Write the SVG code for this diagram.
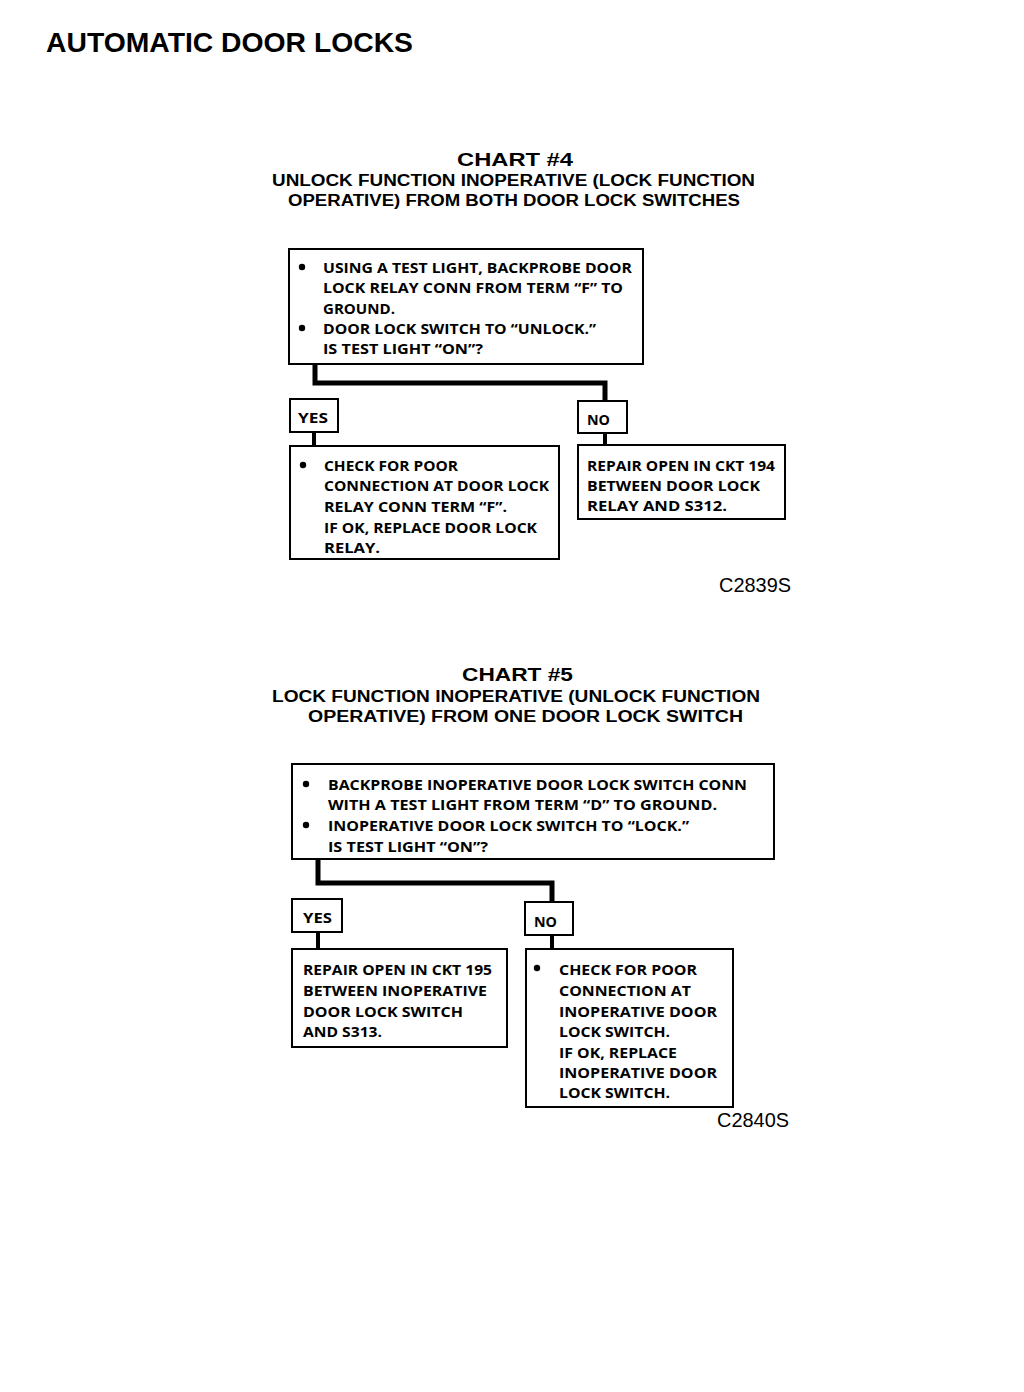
<svg xmlns="http://www.w3.org/2000/svg" width="1024" height="1392" viewBox="0 0 1024 1392">
<style>
.bg{fill:#fff}
.box{fill:#fff;stroke:#000;stroke-width:2}
.t{font-family:"Open Sans","Liberation Sans",sans-serif;font-weight:700;font-size:15px;fill:#000}
.lbl{font-family:"Open Sans","Liberation Sans",sans-serif;font-weight:700;font-size:14px;fill:#000}
.h1{font-family:"Liberation Sans",Arial,sans-serif;font-weight:700;font-size:28px;fill:#000}
.h2{font-family:"Liberation Sans",Arial,sans-serif;font-weight:700;font-size:19px;fill:#000}
.h3{font-family:"Liberation Sans",Arial,sans-serif;font-weight:700;font-size:16px;fill:#000}
.code{font-family:"Liberation Sans",Arial,sans-serif;font-size:20px;fill:#000}
.con{fill:none;stroke:#000;stroke-width:5}
.con2{fill:none;stroke:#000;stroke-width:4}
.dot{fill:#000}
</style>
<rect class="bg" x="0" y="0" width="1024" height="1392"/>

<text class="h1" x="46" y="52" textLength="367" lengthAdjust="spacingAndGlyphs">AUTOMATIC DOOR LOCKS</text>

<g id="chart4-title">
<text class="h2" x="457" y="166" textLength="116" lengthAdjust="spacingAndGlyphs">CHART #4</text>
<text class="h3" x="272" y="186" textLength="483" lengthAdjust="spacingAndGlyphs">UNLOCK FUNCTION INOPERATIVE (LOCK FUNCTION</text>
<text class="h3" x="288" y="206" textLength="452" lengthAdjust="spacingAndGlyphs">OPERATIVE) FROM BOTH DOOR LOCK SWITCHES</text>
</g>

<g id="connectors">
<polyline class="con" points="315,364 315,383 605,383 605,401"/>
<line class="con2" x1="314" y1="432" x2="314" y2="446"/>
<line class="con2" x1="605" y1="433" x2="605" y2="445"/>
<polyline class="con" points="318,859 318,883 552,883 552,902"/>
<line class="con2" x1="318" y1="932" x2="318" y2="949"/>
<line class="con2" x1="552" y1="935" x2="552" y2="949"/>
</g>

<g id="c4-test">
<rect class="box" x="289" y="249" width="354" height="115"/>
<circle class="dot" cx="302" cy="267" r="3.2"/>
<circle class="dot" cx="302" cy="328" r="3.2"/>
<text class="t" x="323" y="273" textLength="309" lengthAdjust="spacingAndGlyphs">USING A TEST LIGHT, BACKPROBE DOOR</text>
<text class="t" x="323" y="293" textLength="300" lengthAdjust="spacingAndGlyphs">LOCK RELAY CONN FROM TERM “F” TO</text>
<text class="t" x="323" y="314" textLength="72" lengthAdjust="spacingAndGlyphs">GROUND.</text>
<text class="t" x="323" y="334" textLength="273" lengthAdjust="spacingAndGlyphs">DOOR LOCK SWITCH TO “UNLOCK.”</text>
<text class="t" x="323" y="354" textLength="160" lengthAdjust="spacingAndGlyphs">IS TEST LIGHT “ON”?</text>
</g>

<g id="c4-yes">
<rect class="box" x="290" y="399" width="48" height="33"/>
<text class="lbl" x="298" y="423" textLength="30" lengthAdjust="spacingAndGlyphs">YES</text>
</g>

<g id="c4-no">
<rect class="box" x="578" y="401" width="49" height="32"/>
<text class="lbl" x="587" y="425" textLength="23" lengthAdjust="spacingAndGlyphs">NO</text>
</g>

<g id="c4-check">
<rect class="box" x="290" y="446" width="269" height="113"/>
<circle class="dot" cx="303" cy="465" r="3.2"/>
<text class="t" x="324" y="471" textLength="134" lengthAdjust="spacingAndGlyphs">CHECK FOR POOR</text>
<text class="t" x="324" y="491" textLength="225" lengthAdjust="spacingAndGlyphs">CONNECTION AT DOOR LOCK</text>
<text class="t" x="324" y="512" textLength="183" lengthAdjust="spacingAndGlyphs">RELAY CONN TERM “F”.</text>
<text class="t" x="324" y="533" textLength="213" lengthAdjust="spacingAndGlyphs">IF OK, REPLACE DOOR LOCK</text>
<text class="t" x="324" y="553" textLength="56" lengthAdjust="spacingAndGlyphs">RELAY.</text>
</g>

<g id="c4-repair">
<rect class="box" x="578" y="445" width="207" height="74"/>
<text class="t" x="587" y="471" textLength="188" lengthAdjust="spacingAndGlyphs">REPAIR OPEN IN CKT 194</text>
<text class="t" x="587" y="491" textLength="173" lengthAdjust="spacingAndGlyphs">BETWEEN DOOR LOCK</text>
<text class="t" x="587" y="511" textLength="140" lengthAdjust="spacingAndGlyphs">RELAY AND S312.</text>
</g>

<text class="code" x="719" y="592" textLength="72" lengthAdjust="spacingAndGlyphs">C2839S</text>

<g id="chart5-title">
<text class="h2" x="462" y="681" textLength="111" lengthAdjust="spacingAndGlyphs">CHART #5</text>
<text class="h3" x="272" y="702" textLength="488" lengthAdjust="spacingAndGlyphs">LOCK FUNCTION INOPERATIVE (UNLOCK FUNCTION</text>
<text class="h3" x="308" y="722" textLength="435" lengthAdjust="spacingAndGlyphs">OPERATIVE) FROM ONE DOOR LOCK SWITCH</text>
</g>

<g id="c5-test">
<rect class="box" x="292" y="764" width="482" height="95"/>
<circle class="dot" cx="306" cy="784" r="3.2"/>
<circle class="dot" cx="306" cy="825" r="3.2"/>
<text class="t" x="328" y="790" textLength="419" lengthAdjust="spacingAndGlyphs">BACKPROBE INOPERATIVE DOOR LOCK SWITCH CONN</text>
<text class="t" x="328" y="810" textLength="389" lengthAdjust="spacingAndGlyphs">WITH A TEST LIGHT FROM TERM “D” TO GROUND.</text>
<text class="t" x="328" y="831" textLength="361" lengthAdjust="spacingAndGlyphs">INOPERATIVE DOOR LOCK SWITCH TO “LOCK.”</text>
<text class="t" x="328" y="852" textLength="160" lengthAdjust="spacingAndGlyphs">IS TEST LIGHT “ON”?</text>
</g>

<g id="c5-yes">
<rect class="box" x="292" y="899" width="50" height="33"/>
<text class="lbl" x="303" y="923" textLength="29" lengthAdjust="spacingAndGlyphs">YES</text>
</g>

<g id="c5-no">
<rect class="box" x="525" y="902" width="48" height="33"/>
<text class="lbl" x="534" y="927" textLength="23" lengthAdjust="spacingAndGlyphs">NO</text>
</g>

<g id="c5-repair">
<rect class="box" x="292" y="949" width="215" height="98"/>
<text class="t" x="303" y="975" textLength="189" lengthAdjust="spacingAndGlyphs">REPAIR OPEN IN CKT 195</text>
<text class="t" x="303" y="996" textLength="184" lengthAdjust="spacingAndGlyphs">BETWEEN INOPERATIVE</text>
<text class="t" x="303" y="1017" textLength="160" lengthAdjust="spacingAndGlyphs">DOOR LOCK SWITCH</text>
<text class="t" x="303" y="1037" textLength="79" lengthAdjust="spacingAndGlyphs">AND S313.</text>
</g>

<g id="c5-check">
<rect class="box" x="526" y="949" width="207" height="158"/>
<circle class="dot" cx="537" cy="968" r="3.2"/>
<text class="t" x="559" y="975" textLength="138" lengthAdjust="spacingAndGlyphs">CHECK FOR POOR</text>
<text class="t" x="559" y="996" textLength="132" lengthAdjust="spacingAndGlyphs">CONNECTION AT</text>
<text class="t" x="559" y="1017" textLength="158" lengthAdjust="spacingAndGlyphs">INOPERATIVE DOOR</text>
<text class="t" x="559" y="1037" textLength="111" lengthAdjust="spacingAndGlyphs">LOCK SWITCH.</text>
<text class="t" x="559" y="1058" textLength="118" lengthAdjust="spacingAndGlyphs">IF OK, REPLACE</text>
<text class="t" x="559" y="1078" textLength="158" lengthAdjust="spacingAndGlyphs">INOPERATIVE DOOR</text>
<text class="t" x="559" y="1098" textLength="111" lengthAdjust="spacingAndGlyphs">LOCK SWITCH.</text>
</g>

<text class="code" x="717" y="1127" textLength="72" lengthAdjust="spacingAndGlyphs">C2840S</text>
</svg>
